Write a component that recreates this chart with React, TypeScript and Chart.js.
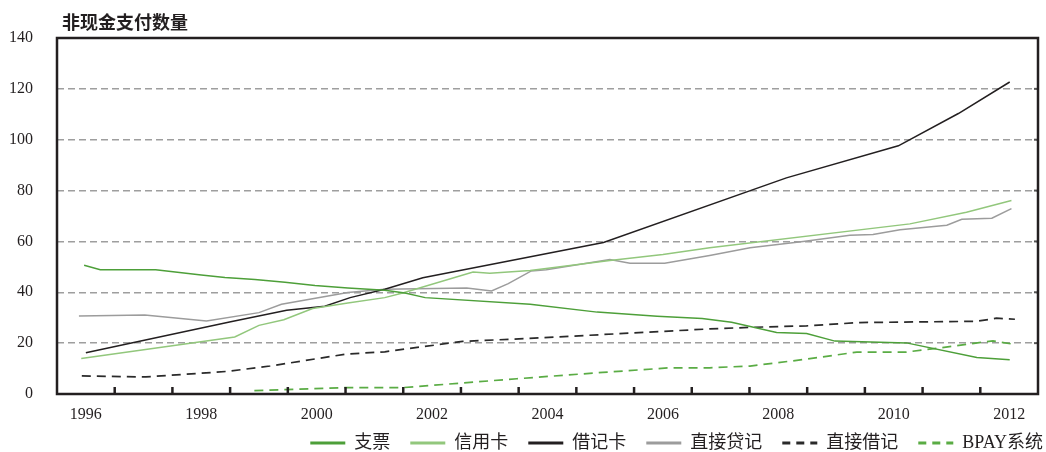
import React, { useEffect, useRef } from 'react';
import { Chart, registerables } from 'chart.js';

Chart.register(...registerables);

const chartTitle = '非现金支付数量';
const seriesNames = ['支票', '信用卡', '借记卡', '直接贷记', '直接借记', 'BPAY系统'];

const chequeYears = [1995.97, 1996.25, 1997.21, 1998.0, 1998.41, 1998.93, 1999.45, 1999.97, 2000.54, 2001.18, 2001.53, 2001.88, 2003.7, 2004.86, 2005.9, 2006.68, 2007.19, 2007.97, 2008.49, 2008.98, 2010.22, 2011.44, 2012.01];
const chequeValues = [50.6, 48.9, 48.9, 46.8, 45.8, 45.0, 43.9, 42.7, 41.7, 40.8, 39.7, 37.9, 35.3, 32.2, 30.6, 29.7, 28.2, 24.2, 23.8, 20.8, 20.1, 14.4, 13.5];

const creditYears = [1995.92, 1998.58, 1999.0, 1999.43, 1999.93, 2000.54, 2001.18, 2001.49, 2002.71, 2003.0, 2003.7, 2005.08, 2006.0, 2006.81, 2010.28, 2011.26, 2012.04];
const creditValues = [14.0, 22.4, 27.0, 29.2, 33.6, 35.8, 37.9, 39.7, 48.0, 47.5, 48.6, 52.5, 54.9, 57.5, 66.9, 71.5, 76.1];

const debitCardYears = [1996.0, 1998.51, 1999.48, 2000.14, 2000.58, 2001.18, 2001.84, 2004.97, 2008.14, 2010.08, 2011.12, 2012.01];
const debitCardValues = [16.2, 28.4, 32.9, 34.5, 37.9, 41.2, 45.7, 59.6, 85.0, 97.6, 110.3, 122.7];

const directCreditYears = [1995.88, 1997.02, 1998.09, 1999.0, 1999.39, 2000.54, 2001.18, 2002.6, 2003.03, 2003.32, 2003.72, 2003.98, 2005.08, 2005.43, 2006.03, 2006.81, 2007.51, 2008.43, 2009.24, 2009.64, 2010.11, 2010.92, 2011.18, 2011.7, 2012.04];
const directCreditValues = [30.7, 31.1, 28.7, 32.0, 35.3, 39.9, 41.2, 41.7, 40.5, 43.4, 48.4, 48.9, 52.9, 51.4, 51.4, 54.5, 57.5, 60.0, 62.4, 62.7, 64.6, 66.4, 68.7, 69.1, 72.9];

const directDebitYears = [1995.93, 1997.04, 1998.46, 1999.19, 2000.51, 2001.18, 2002.53, 2003.64, 2006.81, 2007.51, 2008.49, 2009.41, 2011.44, 2011.78, 2012.1];
const directDebitValues = [7.1, 6.7, 8.9, 11.0, 15.7, 16.6, 20.7, 21.8, 25.6, 26.2, 26.8, 28.1, 28.6, 29.8, 29.4];

const bpayYears = [1998.92, 2000.49, 2001.49, 2003.47, 2004.96, 2006.12, 2006.81, 2007.51, 2008.49, 2009.36, 2010.22, 2011.03, 2011.72, 2012.04];
const bpayValues = [1.3, 2.5, 2.5, 6.0, 8.5, 10.3, 10.3, 11.0, 13.7, 16.5, 16.5, 18.8, 20.9, 19.7];

const xAxisYears = [1996, 1997, 1998, 1999, 2000, 2001, 2002, 2003, 2004, 2005, 2006, 2007, 2008, 2009, 2010, 2011, 2012];
const xTickLabels = ['1996', '1998', '2000', '2002', '2004', '2006', '2008', '2010', '2012'];
const yTickValues = [0, 20, 40, 60, 80, 100, 120, 140];

const SERIF = "'Liberation Serif', 'Times New Roman', serif";
const MIXED = "'Liberation Serif', 'Noto Sans CJK SC', serif";
const INK = '#231f20';
const LEGEND_DX = 25;
const LEGEND_DY = -10;

const zip = (xs: number[], ys: number[]) => xs.map((x, i) => ({ x, y: ys[i] }));

const framePlugin = {
  id: 'frameAndTitle',
  afterLayout(chart: any) {
    const lg = chart.legend;
    if (lg) {
      lg.left += LEGEND_DX;
      lg.right += LEGEND_DX;
      lg.top += LEGEND_DY;
      lg.bottom += LEGEND_DY;
    }
  },
  afterDraw(chart: any) {
    const { ctx, chartArea, scales } = chart;
    const { left, right, top, bottom } = chartArea;
    ctx.save();
    ctx.strokeStyle = INK;
    ctx.lineWidth = 2.5;
    for (let i = 0; i < xAxisYears.length - 1; i++) {
      const px = scales.x.getPixelForValue(xAxisYears[i] + 0.5);
      ctx.beginPath();
      ctx.moveTo(px, bottom);
      ctx.lineTo(px, bottom - 7);
      ctx.stroke();
    }
    ctx.lineWidth = 2;
    ctx.strokeStyle = '#555';
    for (const v of yTickValues) {
      if (v === 0 || v === 140) continue;
      const py = scales.y.getPixelForValue(v);
      ctx.beginPath();
      ctx.moveTo(right - 4, py);
      ctx.lineTo(right, py);
      ctx.stroke();
    }
    ctx.strokeStyle = INK;
    ctx.lineWidth = 2.5;
    ctx.strokeRect(left, top, right - left, bottom - top);
    ctx.fillStyle = INK;
    ctx.font = "bold 18px 'Noto Sans CJK SC', sans-serif";
    ctx.textAlign = 'left';
    ctx.textBaseline = 'middle';
    ctx.fillText(chartTitle, left + 5, 22);
    ctx.restore();
  },
};

export default function App() {
  const canvasRef = useRef<HTMLCanvasElement | null>(null);

  useEffect(() => {
    if (!canvasRef.current) return;
    const mk = (label: string, xs: number[], ys: number[], color: string, dash: number[] = [], width = 1.5) => ({
      label,
      data: zip(xs, ys),
      borderColor: color,
      backgroundColor: color,
      borderWidth: width,
      borderDash: dash,
      pointRadius: 0,
      pointHoverRadius: 0,
      tension: 0,
      fill: false,
    });
    const chart = new Chart(canvasRef.current, {
      type: 'line',
      data: {
        datasets: [
          mk(seriesNames[0], chequeYears, chequeValues, '#4d9f39'),
          mk(seriesNames[1], creditYears, creditValues, '#92c77c'),
          mk(seriesNames[2], debitCardYears, debitCardValues, INK),
          mk(seriesNames[3], directCreditYears, directCreditValues, '#9c9c9c'),
          mk(seriesNames[4], directDebitYears, directDebitValues, '#2a2a2a', [9, 6], 1.7),
          mk(seriesNames[5], bpayYears, bpayValues, '#5aac44', [9, 6], 1.7),
        ] as any,
      },
      options: {
        animation: false,
        responsive: false,
        devicePixelRatio: 1,
        layout: { padding: { top: 38, left: 0, right: 8, bottom: -20 } },
        scales: {
          x: {
            type: 'linear',
            min: 1995.5,
            max: 2012.5,
            afterBuildTicks: (scale: any) => {
              scale.ticks = xAxisYears.map((v) => ({ value: v }));
            },
            afterFit: (scale: any) => {
              scale.height = 30;
            },
            grid: { display: false, drawTicks: false },
            border: { display: false },
            ticks: {
              autoSkip: false,
              maxRotation: 0,
              padding: 11,
              color: INK,
              font: { family: SERIF, size: 16 },
              callback: (v: any) => (xTickLabels.includes(String(v)) ? String(v) : ''),
            },
          },
          y: {
            type: 'linear',
            min: 0,
            max: 140,
            afterFit: (scale: any) => {
              scale.width = 57;
            },
            afterBuildTicks: (scale: any) => {
              scale.ticks = yTickValues.map((v) => ({ value: v }));
            },
            grid: {
              drawTicks: false,
              lineWidth: 1.5,
              color: (c: any) => (c.tick && (c.tick.value === 0 || c.tick.value === 140) ? 'rgba(0,0,0,0)' : '#9e9e9e'),
            },
            border: { display: false, dash: [7, 4] },
            ticks: {
              padding: 24,
              color: INK,
              font: { family: SERIF, size: 16 },
            },
          },
        },
        plugins: {
          title: { display: false },
          tooltip: { enabled: false },
          legend: {
            display: true,
            position: 'bottom',
            align: 'end',
            labels: {
              color: INK,
              font: { family: MIXED, size: 18 },
              boxWidth: 35,
              boxHeight: 18,
              usePointStyle: true,
              pointStyle: 'line',
              pointStyleWidth: 35,
              padding: 20,
              generateLabels: (ch: any) => {
                const items = Chart.defaults.plugins.legend.labels.generateLabels(ch);
                return items.map((it: any) => {
                  const ds = ch.data.datasets[it.datasetIndex];
                  const dashed = ds.borderDash && ds.borderDash.length > 0;
                  return {
                    ...it,
                    strokeStyle: ds.borderColor,
                    fillStyle: ds.borderColor,
                    lineWidth: 3,
                    lineDash: dashed ? [8, 6] : [],
                    pointStyle: 'line',
                  };
                });
              },
            },
          },
        },
      } as any,
      plugins: [framePlugin],
    });
    return () => chart.destroy();
  }, []);

  return (
    <div style={{ position: 'fixed', left: 0, top: 0, width: 1046, height: 452, background: '#fff' }}>
      <canvas ref={canvasRef} width={1046} height={452} style={{ width: 1046, height: 452, display: 'block' }} />
    </div>
  );
}
